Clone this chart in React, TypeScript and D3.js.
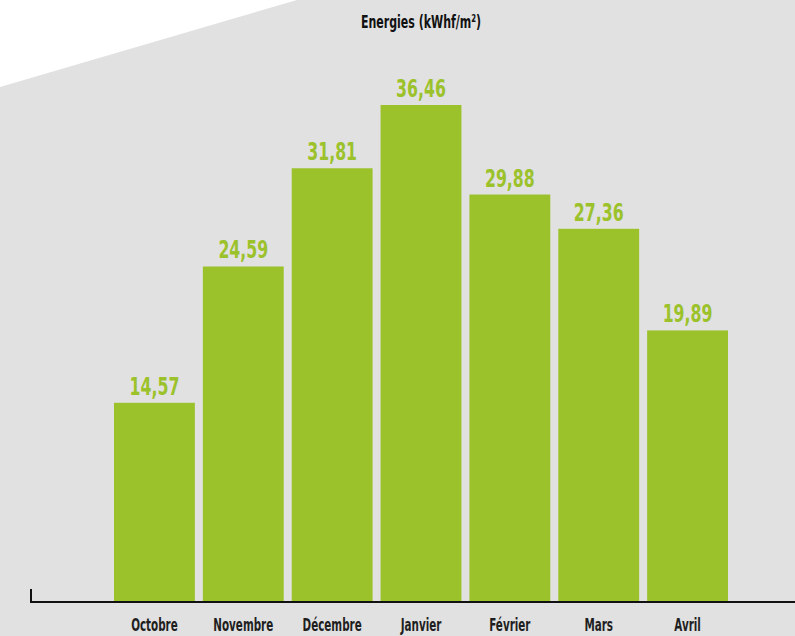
import React, { useEffect, useRef } from 'react';
import * as d3 from 'd3';

// Data
const months = ['Octobre', 'Novembre', 'Décembre', 'Janvier', 'Février', 'Mars', 'Avril'];
const energies = [14.57, 24.59, 31.81, 36.46, 29.88, 27.36, 19.89];
const title = 'Energies (kWhf/m²)';

const App = () => {
  const chartRef = useRef<SVGSVGElement | null>(null);

  useEffect(() => {
    const width = 795;
    const height = 636;
    const green = '#9cc22b';
    // no condensed face installed, so squeeze the text horizontally
    const font = '"DejaVu Sans Condensed", "DejaVu Sans", sans-serif';

    const svg = d3.select(chartRef.current);
    svg.selectAll('*').remove();

    // background with the cut corner
    svg
      .append('rect')
      .attr('width', width)
      .attr('height', height)
      .attr('fill', '#ffffff');
    svg
      .append('polygon')
      .attr('points', `0,87 297,0 ${width},0 ${width},${height} 0,${height}`)
      .attr('fill', '#e1e1e1');

    // scales
    const xScale = d3
      .scaleBand<string>()
      .domain(months)
      .range([114, 728])
      .paddingInner(0.09)
      .paddingOuter(0);

    const yScale = d3.scaleLinear().domain([0, 36.46]).range([601, 105]);

    const data = months.map((m, i) => ({ month: m, value: energies[i] }));
    const cx = (m: string) => (xScale(m) as number) + xScale.bandwidth() / 2;

    // bars
    svg
      .append('g')
      .selectAll('rect')
      .data(data)
      .join('rect')
      .attr('x', (d) => xScale(d.month) as number)
      .attr('y', (d) => yScale(d.value))
      .attr('width', xScale.bandwidth())
      .attr('height', (d) => yScale(0) - yScale(d.value))
      .attr('fill', green);

    // value labels
    svg
      .append('g')
      .selectAll('text')
      .data(data)
      .join('text')
      .attr('transform', (d) => `translate(${cx(d.month)},${yScale(d.value) - 8}) scale(0.73,1)`)
      .attr('text-anchor', 'middle')
      .attr('font-family', font)
      .attr('font-weight', 'bold')
      .attr('font-size', 24)
      .attr('fill', green)
      .text((d) => d3.format('.2f')(d.value).replace('.', ','));

    // x axis line + small left tick
    svg
      .append('line')
      .attr('x1', 30)
      .attr('x2', width)
      .attr('y1', 602)
      .attr('y2', 602)
      .attr('stroke', '#111')
      .attr('stroke-width', 2);
    svg
      .append('line')
      .attr('x1', 31)
      .attr('x2', 31)
      .attr('y1', 589)
      .attr('y2', 603)
      .attr('stroke', '#111')
      .attr('stroke-width', 2);

    // category labels
    svg
      .append('g')
      .selectAll('text')
      .data(months)
      .join('text')
      .attr('transform', (d) => `translate(${cx(d)},631) scale(0.64,1)`)
      .attr('text-anchor', 'middle')
      .attr('font-family', font)
      .attr('font-weight', 'bold')
      .attr('font-size', 18)
      .attr('fill', '#1e1e1e')
      .text((d) => d);

    // title
    svg
      .append('text')
      .attr('transform', 'translate(421,28) scale(0.68,1)')
      .attr('text-anchor', 'middle')
      .attr('font-family', font)
      .attr('font-weight', 'bold')
      .attr('font-size', 18)
      .attr('fill', '#111')
      .text(title);
  }, []);

  return (
    <svg
      ref={chartRef}
      width={795}
      height={636}
      style={{ position: 'absolute', top: 0, left: 0, display: 'block' }}
    />
  );
};

export default App;
